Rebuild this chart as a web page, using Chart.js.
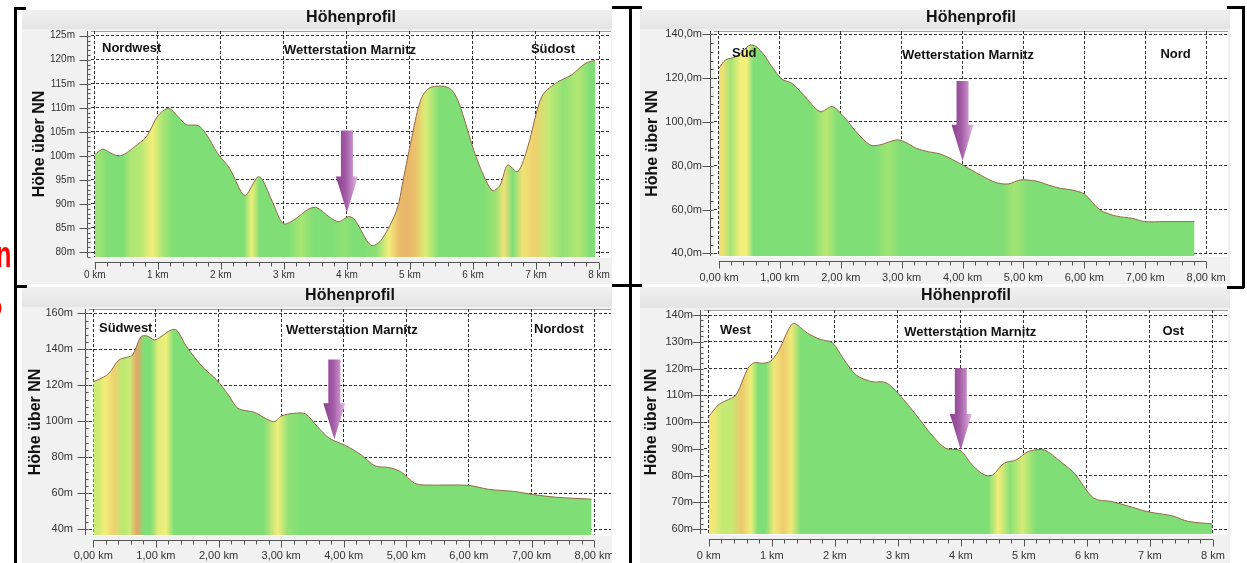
<!DOCTYPE html>
<html>
<head>
<meta charset="utf-8">
<script src="https://cdn.jsdelivr.net/npm/chart.js@4.4.1/dist/chart.umd.min.js"></script>
<style>
body { margin: 0; width: 1247px; height: 563px; background: #fff; position: relative; overflow: hidden; font-family: "Liberation Sans", Arial, sans-serif; }
canvas { position: absolute; }
.strich { position: absolute; background: #000; }
.rot { position: absolute; color: #f00; font-weight: bold; transform-origin: left top; }
</style>
</head>
<body>
<canvas id="c1" width="590" height="274" style="left:22px;top:10px"></canvas>
<canvas id="c2" width="590" height="274" style="left:640px;top:10px"></canvas>
<canvas id="c3" width="590" height="276" style="left:22px;top:287px"></canvas>
<canvas id="c4" width="590" height="276" style="left:640px;top:287px"></canvas>

<!-- schwarze Klammern -->
<div class="strich" style="left:14px;top:7px;width:3px;height:556px"></div>
<div class="strich" style="left:14px;top:7px;width:12px;height:3px"></div>
<div class="strich" style="left:14px;top:285px;width:13px;height:3px"></div>
<div class="strich" style="left:612px;top:6px;width:30px;height:3px"></div>
<div class="strich" style="left:629px;top:6px;width:3px;height:557px"></div>
<div class="strich" style="left:612px;top:284px;width:30px;height:3px"></div>
<div class="strich" style="left:1227px;top:6px;width:17px;height:3px"></div>
<div class="strich" style="left:1242px;top:6px;width:3px;height:282px"></div>
<div class="strich" style="left:1227px;top:286px;width:17px;height:3px"></div>
<div class="rot" style="left:-4px;top:234px;font-size:36px;transform:scaleX(0.7)">n</div>
<div class="rot" style="left:-2px;top:300px;font-size:12px">)</div>

<script>
var FONT = '"Liberation Sans", Arial, sans-serif';
var kmTicks = [0, 1, 2, 3, 4, 5, 6, 7, 8];

// Nordwest -> Südost
var km1 = [0, 0.13, 0.25, 0.38, 0.5, 0.63, 0.82, 1.0, 1.17, 1.32, 1.45, 1.64, 1.76, 1.95, 2.14, 2.33, 2.4, 2.58, 2.65, 2.83, 2.99, 3.15, 3.4, 3.53, 3.72, 3.87, 4.03, 4.13, 4.38, 4.54, 4.79, 4.9, 5.01, 5.17, 5.32, 5.61, 5.76, 6.05, 6.3, 6.43, 6.55, 6.71, 6.87, 7.09, 7.31, 7.56, 7.78, 7.94];
var hoehe1 = [100.3, 101.4, 100.6, 100.0, 100.6, 101.9, 104.0, 108.3, 109.9, 108.2, 106.5, 106.3, 104.7, 100.5, 97.4, 92.3, 91.8, 95.6, 95.3, 90.1, 85.9, 86.6, 89.0, 89.2, 87.3, 86.3, 87.4, 86.6, 81.4, 82.4, 88.7, 95.5, 102.6, 111.6, 114.2, 114.2, 111.6, 99.8, 92.8, 93.9, 98.1, 96.7, 101.9, 112.3, 115.1, 116.8, 119.2, 119.9];
var yTicks1 = [80, 85, 90, 95, 100, 105, 110, 115, 120, 125];
var yLabels1 = ["80m", "85m", "90m", "95m", "100m", "105m", "110m", "115m", "120m", "125m"];
var xLabels1 = ["0 km", "1 km", "2 km", "3 km", "4 km", "5 km", "6 km", "7 km", "8 km"];
var texte1 = ["Nordwest", "Wetterstation Marnitz", "Südost"];
var pfeil1 = [4.0, 105.3, 88.2];

// Süd -> Nord
var km2 = [0, 0.11, 0.28, 0.41, 0.51, 0.61, 0.74, 0.87, 1.03, 1.2, 1.39, 1.66, 1.86, 2.05, 2.25, 2.48, 2.64, 2.91, 3.04, 3.24, 3.44, 3.63, 3.83, 4.03, 4.29, 4.55, 4.75, 4.95, 5.21, 5.41, 5.61, 5.8, 6.0, 6.26, 6.53, 6.79, 6.99, 7.32, 7.81];
var hoehe2 = [124.5, 128.3, 129.8, 132.8, 135.1, 134.4, 130.6, 125.2, 119.6, 117.6, 112.3, 104.7, 107.0, 102.4, 95.6, 89.5, 89.5, 91.8, 91.0, 88.0, 86.4, 85.4, 82.9, 79.9, 75.8, 72.3, 71.7, 73.5, 73.0, 71.2, 69.7, 68.9, 67.1, 59.8, 57.0, 56.0, 54.5, 54.5, 54.5];
var yTicks2 = [40, 60, 80, 100, 120, 140];
var yLabels2 = ["40,0m", "60,0m", "80,0m", "100,0m", "120,0m", "140,0m"];
var xLabels2 = ["0,00 km", "1,00 km", "2,00 km", "3,00 km", "4,00 km", "5,00 km", "6,00 km", "7,00 km", "8,00 km"];
var texte2 = ["Süd", "Wetterstation Marnitz", "Nord"];
var pfeil2 = [4.0, 118.7, 82.3];

// Südwest -> Nordost
var km3 = [0, 0.13, 0.25, 0.41, 0.54, 0.63, 0.76, 0.86, 0.98, 1.08, 1.24, 1.33, 1.49, 1.74, 1.97, 2.16, 2.31, 2.57, 2.88, 3.01, 3.2, 3.39, 3.58, 3.77, 4.03, 4.28, 4.5, 4.72, 4.91, 5.13, 5.29, 5.99, 6.31, 6.75, 7.0, 7.39, 7.96];
var hoehe3 = [122.0, 123.9, 126.7, 134.1, 135.6, 136.9, 147.0, 147.4, 145.2, 147.0, 150.7, 150.7, 141.5, 130.4, 123.0, 114.6, 107.2, 105.0, 99.8, 103.0, 104.4, 104.1, 97.0, 90.6, 86.5, 81.3, 75.2, 74.3, 72.0, 65.6, 64.6, 64.4, 62.2, 60.9, 59.4, 57.8, 56.7];
var yTicks3 = [40, 60, 80, 100, 120, 140, 160];
var yLabels3 = ["40m", "60m", "80m", "100m", "120m", "140m", "160m"];
var xLabels3 = ["0,00 km", "1,00 km", "2,00 km", "3,00 km", "4,00 km", "5,00 km", "6,00 km", "7,00 km", "8,00 km"];
var texte3 = ["Südwest", "Wetterstation Marnitz", "Nordost"];
var pfeil3 = [3.85, 134.4, 90.0];

// West -> Ost
var km4 = [0, 0.15, 0.27, 0.43, 0.62, 0.72, 0.84, 0.97, 1.1, 1.26, 1.35, 1.57, 1.77, 1.96, 2.15, 2.34, 2.59, 2.81, 3.03, 3.29, 3.54, 3.76, 3.99, 4.18, 4.37, 4.5, 4.69, 4.88, 5.07, 5.32, 5.58, 5.8, 6.11, 6.4, 6.72, 6.97, 7.35, 7.61, 7.99];
var hoehe4 = [102.1, 106.4, 108.0, 110.1, 120.1, 122.2, 122.0, 122.6, 126.3, 134.4, 136.9, 133.2, 130.9, 129.7, 123.2, 117.6, 115.1, 114.8, 110.1, 102.7, 95.2, 90.2, 89.4, 84.0, 80.3, 80.2, 84.7, 85.9, 89.0, 89.6, 85.3, 80.9, 71.6, 70.3, 68.2, 66.5, 65.0, 62.9, 62.0];
var yTicks4 = [60, 70, 80, 90, 100, 110, 120, 130, 140];
var yLabels4 = ["60m", "70m", "80m", "90m", "100m", "110m", "120m", "130m", "140m"];
var xLabels4 = ["0 km", "1 km", "2 km", "3 km", "4 km", "5 km", "6 km", "7 km", "8 km"];
var texte4 = ["West", "Wetterstation Marnitz", "Ost"];
var pfeil4 = [4.0, 120.1, 89.6];

// Steigung (m/km) -> Farbe
var stufen = [[5, [128, 222, 118]], [12, [190, 233, 114]], [22, [242, 240, 122]], [45, [240, 212, 112]], [75, [228, 164, 102]]];
function farbe(s) {
    if (s <= stufen[0][0]) return 'rgb(' + stufen[0][1].join(',') + ')';
    for (var i = 1; i < stufen.length; i++) {
        if (s <= stufen[i][0]) {
            var t = (s - stufen[i - 1][0]) / (stufen[i][0] - stufen[i - 1][0]);
            var a = stufen[i - 1][1], b = stufen[i][1];
            return 'rgb(' + [0, 1, 2].map(function (k) { return Math.round(a[k] + (b[k] - a[k]) * t); }).join(',') + ')';
        }
    }
    return 'rgb(' + stufen[stufen.length - 1][1].join(',') + ')';
}

function flaeche(km, hoehe) {
    return function (ctx) {
        var chart = ctx.chart, area = chart.chartArea;
        if (!area) return 'rgb(128,222,118)';
        var xs = chart.scales.x;
        var g = chart.ctx.createLinearGradient(area.left, 0, area.right, 0);
        for (var i = 0; i < km.length - 1; i++) {
            var s = (hoehe[i + 1] - hoehe[i]) / (km[i + 1] - km[i]);
            var p = (xs.getPixelForValue((km[i] + km[i + 1]) / 2) - area.left) / (area.right - area.left);
            g.addColorStop(Math.min(1, Math.max(0, p)), farbe(s));
        }
        return g;
    };
}

var hintergrund = {
    id: 'hintergrund',
    beforeDraw: function (chart) {
        var c = chart.ctx, a = chart.chartArea;
        c.save();
        c.fillStyle = '#f1f1f1';
        c.fillRect(0, 0, chart.width, chart.height);
        var g = c.createLinearGradient(0, 0, 0, a.top);
        g.addColorStop(0, '#f0f0f0');
        g.addColorStop(1, '#e3e3e3');
        c.fillStyle = g;
        c.fillRect(0, 0, chart.width, a.top - 2);
        c.fillStyle = '#fff';
        c.fillRect(a.left, a.top, a.right - a.left, a.bottom - a.top + 1);
        c.strokeStyle = '#a0a0a0';
        c.lineWidth = 1;
        c.beginPath();
        c.moveTo(a.left, Math.round(a.top) + 0.5);
        c.lineTo(a.right, Math.round(a.top) + 0.5);
        c.stroke();
        c.restore();
    }
};

var achsen = {
    id: 'achsen',
    afterDraw: function (chart, args, o) {
        var c = chart.ctx, a = chart.chartArea, xs = chart.scales.x, ys = chart.scales.y;
        c.save();
        c.strokeStyle = '#555';
        c.lineWidth = 1;
        c.beginPath();
        // y-Achse
        var ax = Math.round(a.left - 4) + 0.5;
        c.moveTo(ax, a.top);
        c.lineTo(ax, a.bottom);
        ys.ticks.forEach(function (t) {
            var p = Math.round(ys.getPixelForValue(t.value)) + 0.5;
            c.moveTo(ax - 8, p);
            c.lineTo(ax, p);
        });
        for (var v = Math.ceil(ys.min / o.yMinor) * o.yMinor; v <= ys.max; v += o.yMinor) {
            var p = Math.round(ys.getPixelForValue(v)) + 0.5;
            c.moveTo(ax, p);
            c.lineTo(ax + 3, p);
        }
        // x-Lineal
        var ry = Math.round(a.bottom + 5) + 0.5;
        c.moveTo(xs.getPixelForValue(kmTicks[0]), ry);
        c.lineTo(xs.getPixelForValue(kmTicks[kmTicks.length - 1]), ry);
        for (var i = 0; i <= 40; i++) {
            var px = Math.round(xs.getPixelForValue(i * 0.2)) + 0.5;
            c.moveTo(px, ry);
            c.lineTo(px, ry + (i % 5 === 0 ? 7 : 4));
        }
        c.stroke();

        // Richtungen
        c.fillStyle = '#111';
        c.font = 'bold 13px ' + FONT;
        c.textBaseline = 'middle';
        var ty = a.top + o.textY;
        c.textAlign = 'left';
        c.fillText(o.texte[0], a.left + o.links, ty);
        c.textAlign = 'center';
        c.fillText(o.texte[1], xs.getPixelForValue(o.mitte), ty + 2);
        c.textAlign = 'left';
        c.fillText(o.texte[2], xs.getPixelForValue(o.rechts), ty + 1);

        // Pfeil zur Wetterstation
        var x = xs.getPixelForValue(o.pfeil[0]);
        var y0 = ys.getPixelForValue(o.pfeil[1]);
        var y1 = ys.getPixelForValue(o.pfeil[2]);
        var sw = 6, hw = 11, hl = 36;
        var g = c.createLinearGradient(x - hw, 0, x + hw, 0);
        g.addColorStop(0, '#8a3c8e');
        g.addColorStop(0.45, '#a35ca6');
        g.addColorStop(0.75, '#c48cc6');
        g.addColorStop(1, '#e2c2e2');
        c.fillStyle = g;
        c.beginPath();
        c.moveTo(x - sw, y0);
        c.lineTo(x + sw, y0);
        c.lineTo(x + sw, y1 - hl);
        c.lineTo(x + hw, y1 - hl);
        c.lineTo(x, y1);
        c.lineTo(x - hw, y1 - hl);
        c.lineTo(x - sw, y1 - hl);
        c.closePath();
        c.fill();
        c.restore();
    }
};

function profil(id, d) {
    var punkte = d.km.map(function (k, i) { return {x: k, y: d.hoehe[i]}; });
    new Chart(document.getElementById(id), {
        type: 'line',
        data: {
            datasets: [{
                data: punkte,
                borderColor: '#946a48',
                borderWidth: 1,
                pointRadius: 0,
                tension: 0.3,
                fill: 'start',
                backgroundColor: flaeche(d.km, d.hoehe)
            }]
        },
        plugins: [hintergrund, achsen],
        options: {
            responsive: false,
            animation: false,
            events: [],
            layout: {padding: {left: 0, right: d.rechts, top: 0, bottom: 0}},
            plugins: {
                legend: {display: false},
                tooltip: {enabled: false},
                title: {
                    display: true, text: 'Höhenprofil', fullSize: false, color: '#111',
                    font: {family: FONT, size: 16, weight: 'bold', lineHeight: 1},
                    padding: {top: d.titelOben, bottom: d.oben - d.titelOben - 16}
                },
                achsen: {yMinor: d.yMinor, texte: d.texte, pfeil: d.pfeil, links: d.tLinks, mitte: d.tMitte, rechts: d.tRechts, textY: d.textY}
            },
            scales: {
                x: {
                    type: 'linear', min: d.xMin, max: d.xMax, z: 1,
                    afterBuildTicks: function (s) { s.ticks = kmTicks.map(function (v) { return {value: v}; }); },
                    afterFit: function (s) { s.height = d.unten; s.paddingLeft = 0; s.paddingRight = 0; },
                    grid: {color: '#333', lineWidth: 1, drawTicks: false},
                    border: {display: false, dash: [3, 2]},
                    ticks: {
                        padding: d.xPad, color: '#333', maxRotation: 0, autoSkip: false,
                        font: {family: FONT, size: d.fs},
                        callback: function (v, i) { return d.xLabels[i]; }
                    }
                },
                y: {
                    min: d.yMin, max: d.yMax, z: 1,
                    afterBuildTicks: function (s) { s.ticks = d.yTicks.map(function (v) { return {value: v}; }); },
                    afterFit: function (s) { s.width = d.links; s.paddingTop = 0; s.paddingBottom = 0; },
                    grid: {color: '#333', lineWidth: 1, drawTicks: false},
                    border: {display: false, dash: [3, 2]},
                    title: {
                        display: true, text: 'Höhe über NN', color: '#111',
                        font: {family: FONT, size: 16, weight: 'bold', lineHeight: 1},
                        padding: {top: d.yTitel, bottom: 0}
                    },
                    ticks: {
                        padding: d.yPad, color: '#333', autoSkip: false,
                        font: {family: FONT, size: d.fs},
                        callback: function (v, i) { return d.yLabels[i]; }
                    }
                }
            }
        }
    });
}

profil('c1', {km: km1, hoehe: hoehe1, yTicks: yTicks1, yLabels: yLabels1, xLabels: xLabels1, texte: texte1, pfeil: pfeil1,
    xMin: -0.06, xMax: 8.19, yMin: 78.96, yMax: 125.98, links: 69, rechts: 1, oben: 21, unten: 27, titelOben: 0,
    yPad: 16, xPad: 12, yTitel: 10, fs: 10, yMinor: 1, tLinks: 11, tMitte: 4.05, tRechts: 6.92, textY: 17});
profil('c2', {km: km2, hoehe: hoehe2, yTicks: yTicks2, yLabels: yLabels2, xLabels: xLabels2, texte: texte2, pfeil: pfeil2,
    xMin: -0.082, xMax: 8.36, yMin: 38.8, yMax: 141.5, links: 74, rechts: 2, oben: 21, unten: 28, titelOben: 0,
    yPad: 12, xPad: 15, yTitel: 5, fs: 11, yMinor: 4, tLinks: 18, tMitte: 4.09, tRechts: 7.25, textY: 22});
profil('c3', {km: km3, hoehe: hoehe3, yTicks: yTicks3, yLabels: yLabels3, xLabels: xLabels3, texte: texte3, pfeil: pfeil3,
    xMin: -0.069, xMax: 8.27, yMin: 36.8, yMax: 162.4, links: 67, rechts: 1, oben: 22, unten: 28, titelOben: 1,
    yPad: 16, xPad: 14, yTitel: 6, fs: 11, yMinor: 4, tLinks: 10, tMitte: 4.13, tRechts: 7.04, textY: 19});
profil('c4', {km: km4, hoehe: hoehe4, yTicks: yTicks4, yLabels: yLabels4, xLabels: xLabels4, texte: texte4, pfeil: pfeil4,
    xMin: -0.076, xMax: 8.24, yMin: 58.2, yMax: 141.9, links: 64, rechts: 2, oben: 23, unten: 29, titelOben: 1,
    yPad: 11, xPad: 15, yTitel: 4, fs: 11, yMinor: 2, tLinks: 16, tMitte: 4.15, tRechts: 7.2, textY: 20});
</script>
</body>
</html>
